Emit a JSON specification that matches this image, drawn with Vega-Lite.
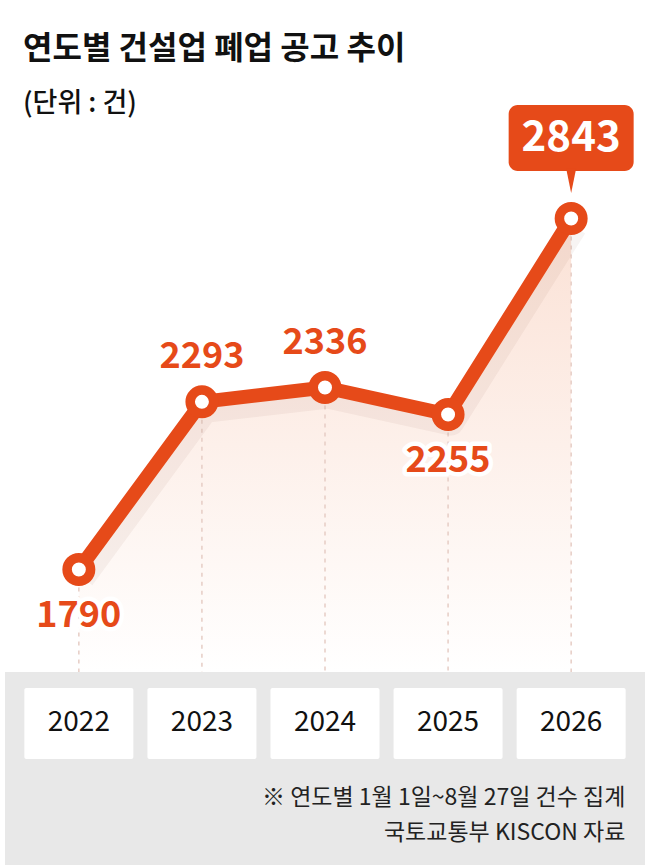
{
  "$schema": "https://vega.github.io/schema/vega-lite/v6.json",
  "width": 650,
  "height": 865,
  "autosize": {"type": "none"},
  "padding": 0,
  "background": "#FFFFFF",
  "title": {
    "text": "연도별 건설업 폐업 공고 추이",
    "subtitle": "(단위 : 건)",
    "anchor": "start",
    "frame": "group",
    "orient": "top",
    "offset": 0,
    "dx": 23,
    "dy": 118,
    "font": "Noto Sans CJK KR",
    "fontSize": 32,
    "fontWeight": "bold",
    "color": "#111111",
    "subtitleFont": "Noto Sans CJK KR",
    "subtitleFontSize": 27,
    "subtitleFontWeight": 500,
    "subtitleColor": "#111111",
    "subtitlePadding": 25
  },
  "config": {"view": {"stroke": null}},
  "datasets": {
    "closures": [
      {"year": 2022, "value": 1790},
      {"year": 2023, "value": 2293},
      {"year": 2024, "value": 2336},
      {"year": 2025, "value": 2255},
      {"year": 2026, "value": 2843}
    ]
  },
  "layer": [
    {
      "data": {"values": [{}]},
      "mark": {"type": "rect", "color": "#E8E8E8"},
      "encoding": {
        "x": {"datum": 2021.4, "type": "quantitative", "scale": {"domain": [2021.4, 2026.6], "nice": false, "zero": false}, "axis": null},
        "x2": {"datum": 2026.6},
        "y": {"datum": 903.5, "type": "quantitative", "scale": {"domain": [903.5, 3498.5], "nice": false, "zero": false}, "axis": null},
        "y2": {"datum": 1482.5}
      }
    },
    {
      "data": {"name": "closures"},
      "mark": {
        "type": "area",
        "fill": {
          "gradient": "linear", "x1": 0, "y1": 0, "x2": 0, "y2": 1,
          "stops": [{"offset": 0, "color": "#FBE1D5"}, {"offset": 1, "color": "#FFFFFF"}]
        }
      },
      "encoding": {
        "x": {"field": "year", "type": "quantitative", "scale": {"domain": [2021.4, 2026.6], "nice": false, "zero": false}, "axis": null},
        "y": {"field": "value", "type": "quantitative", "scale": {"domain": [903.5, 3498.5], "nice": false, "zero": false}, "axis": null},
        "y2": {"datum": 1482.5}
      }
    },
    {
      "data": {"name": "closures"},
      "mark": {"type": "rule", "color": "#E6CDC5", "strokeWidth": 1.5, "strokeDash": [4, 5]},
      "encoding": {
        "x": {"field": "year", "type": "quantitative", "scale": {"domain": [2021.4, 2026.6], "nice": false, "zero": false}, "axis": null},
        "y": {"field": "value", "type": "quantitative", "scale": {"domain": [903.5, 3498.5], "nice": false, "zero": false}, "axis": null},
        "y2": {"datum": 1482.5}
      }
    },
    {
      "data": {"name": "closures"},
      "transform": [{"filter": "datum.year == 2022 || datum.year == 2025"}],
      "mark": {"type": "text", "font": "Noto Sans CJK KR", "fontSize": 36, "fontWeight": "bold", "baseline": "middle", "dy": 46, "stroke": "#FFFFFF", "strokeWidth": 9, "strokeJoin": "round", "fill": "#FFFFFF"},
      "encoding": {
        "x": {"field": "year", "type": "quantitative", "scale": {"domain": [2021.4, 2026.6], "nice": false, "zero": false}, "axis": null},
        "y": {"field": "value", "type": "quantitative", "scale": {"domain": [903.5, 3498.5], "nice": false, "zero": false}, "axis": null},
        "text": {"field": "value", "type": "quantitative", "format": "d"}
      }
    },
    {
      "data": {"name": "closures"},
      "mark": {"type": "line", "color": "#6B2A10", "opacity": 0.05, "strokeWidth": 26, "yOffset": 8, "xOffset": 3, "strokeJoin": "round"},
      "encoding": {
        "x": {"field": "year", "type": "quantitative", "scale": {"domain": [2021.4, 2026.6], "nice": false, "zero": false}, "axis": null},
        "y": {"field": "value", "type": "quantitative", "scale": {"domain": [903.5, 3498.5], "nice": false, "zero": false}, "axis": null}
      }
    },
    {
      "data": {"name": "closures"},
      "mark": {"type": "line", "color": "#E64A19", "strokeWidth": 14, "strokeJoin": "round", "strokeCap": "round"},
      "encoding": {
        "x": {"field": "year", "type": "quantitative", "scale": {"domain": [2021.4, 2026.6], "nice": false, "zero": false}, "axis": null},
        "y": {"field": "value", "type": "quantitative", "scale": {"domain": [903.5, 3498.5], "nice": false, "zero": false}, "axis": null}
      }
    },
    {
      "data": {"name": "closures"},
      "mark": {"type": "point", "shape": "circle", "filled": false, "fill": "#FFFFFF", "fillOpacity": 1, "stroke": "#E64A19", "strokeWidth": 9.5, "size": 552, "opacity": 1},
      "encoding": {
        "x": {"field": "year", "type": "quantitative", "scale": {"domain": [2021.4, 2026.6], "nice": false, "zero": false}, "axis": null},
        "y": {"field": "value", "type": "quantitative", "scale": {"domain": [903.5, 3498.5], "nice": false, "zero": false}, "axis": null}
      }
    },
    {
      "data": {"name": "closures"},
      "transform": [{"filter": "datum.year == 2023 || datum.year == 2024"}],
      "mark": {"type": "text", "font": "Noto Sans CJK KR", "fontSize": 36, "fontWeight": "bold", "baseline": "middle", "dy": -45, "color": "#E64A19"},
      "encoding": {
        "x": {"field": "year", "type": "quantitative", "scale": {"domain": [2021.4, 2026.6], "nice": false, "zero": false}, "axis": null},
        "y": {"field": "value", "type": "quantitative", "scale": {"domain": [903.5, 3498.5], "nice": false, "zero": false}, "axis": null},
        "text": {"field": "value", "type": "quantitative", "format": "d"}
      }
    },
    {
      "data": {"name": "closures"},
      "transform": [{"filter": "datum.year == 2022 || datum.year == 2025"}],
      "mark": {"type": "text", "font": "Noto Sans CJK KR", "fontSize": 36, "fontWeight": "bold", "baseline": "middle", "dy": 46, "color": "#E64A19"},
      "encoding": {
        "x": {"field": "year", "type": "quantitative", "scale": {"domain": [2021.4, 2026.6], "nice": false, "zero": false}, "axis": null},
        "y": {"field": "value", "type": "quantitative", "scale": {"domain": [903.5, 3498.5], "nice": false, "zero": false}, "axis": null},
        "text": {"field": "value", "type": "quantitative", "format": "d"}
      }
    },
    {
      "data": {"name": "closures"},
      "transform": [{"filter": "datum.year == 2026"}],
      "mark": {"type": "bar", "color": "#E64A19", "width": 125, "cornerRadius": 9},
      "encoding": {
        "x": {"field": "year", "type": "quantitative", "scale": {"domain": [2021.4, 2026.6], "nice": false, "zero": false}, "axis": null},
        "y": {"datum": 3183.5, "type": "quantitative", "scale": {"domain": [903.5, 3498.5], "nice": false, "zero": false}, "axis": null},
        "y2": {"datum": 2985.5}
      }
    },
    {
      "data": {"name": "closures"},
      "transform": [{"filter": "datum.year == 2026"}],
      "mark": {"type": "point", "shape": "M-0.45,-1.2L0.45,-1.2L0,1Z", "filled": true, "color": "#E64A19", "opacity": 1, "size": 484},
      "encoding": {
        "x": {"field": "year", "type": "quantitative", "scale": {"domain": [2021.4, 2026.6], "nice": false, "zero": false}, "axis": null},
        "y": {"datum": 2952.5, "type": "quantitative", "scale": {"domain": [903.5, 3498.5], "nice": false, "zero": false}, "axis": null}
      }
    },
    {
      "data": {"name": "closures"},
      "transform": [{"filter": "datum.year == 2026"}],
      "mark": {"type": "text", "font": "Noto Sans CJK KR", "fontSize": 42, "fontWeight": "bold", "baseline": "middle", "color": "#FFFFFF"},
      "encoding": {
        "x": {"field": "year", "type": "quantitative", "scale": {"domain": [2021.4, 2026.6], "nice": false, "zero": false}, "axis": null},
        "y": {"datum": 3084.5, "type": "quantitative", "scale": {"domain": [903.5, 3498.5], "nice": false, "zero": false}, "axis": null},
        "text": {"field": "value", "type": "quantitative", "format": "d"}
      }
    },
    {
      "data": {"name": "closures"},
      "mark": {"type": "bar", "color": "#FFFFFF", "width": 109, "cornerRadius": 2},
      "encoding": {
        "x": {"field": "year", "type": "quantitative", "scale": {"domain": [2021.4, 2026.6], "nice": false, "zero": false}, "axis": null},
        "y": {"datum": 1434.5, "type": "quantitative", "scale": {"domain": [903.5, 3498.5], "nice": false, "zero": false}, "axis": null},
        "y2": {"datum": 1221.5}
      }
    },
    {
      "data": {"name": "closures"},
      "mark": {"type": "text", "font": "Noto Sans CJK KR", "fontSize": 28, "baseline": "middle", "color": "#111111"},
      "encoding": {
        "x": {"field": "year", "type": "quantitative", "scale": {"domain": [2021.4, 2026.6], "nice": false, "zero": false}, "axis": null},
        "y": {"datum": 1329.5, "type": "quantitative", "scale": {"domain": [903.5, 3498.5], "nice": false, "zero": false}, "axis": null},
        "text": {"field": "year", "type": "nominal"}
      }
    },
    {
      "data": {"values": [{"note": "※ 연도별 1월 1일~8월 27일 건수 집계"}]},
      "mark": {"type": "text", "font": "Noto Sans CJK KR", "fontSize": 23, "align": "right", "baseline": "middle", "color": "#222222"},
      "encoding": {
        "x": {"datum": 2026.44, "type": "quantitative", "scale": {"domain": [2021.4, 2026.6], "nice": false, "zero": false}, "axis": null},
        "y": {"datum": 1104.5, "type": "quantitative", "scale": {"domain": [903.5, 3498.5], "nice": false, "zero": false}, "axis": null},
        "text": {"field": "note", "type": "nominal"}
      }
    },
    {
      "data": {"values": [{"note": "국토교통부 KISCON 자료"}]},
      "mark": {"type": "text", "font": "Noto Sans CJK KR", "fontSize": 23, "align": "right", "baseline": "middle", "color": "#222222"},
      "encoding": {
        "x": {"datum": 2026.44, "type": "quantitative", "scale": {"domain": [2021.4, 2026.6], "nice": false, "zero": false}, "axis": null},
        "y": {"datum": 999.5, "type": "quantitative", "scale": {"domain": [903.5, 3498.5], "nice": false, "zero": false}, "axis": null},
        "text": {"field": "note", "type": "nominal"}
      }
    }
  ]
}
